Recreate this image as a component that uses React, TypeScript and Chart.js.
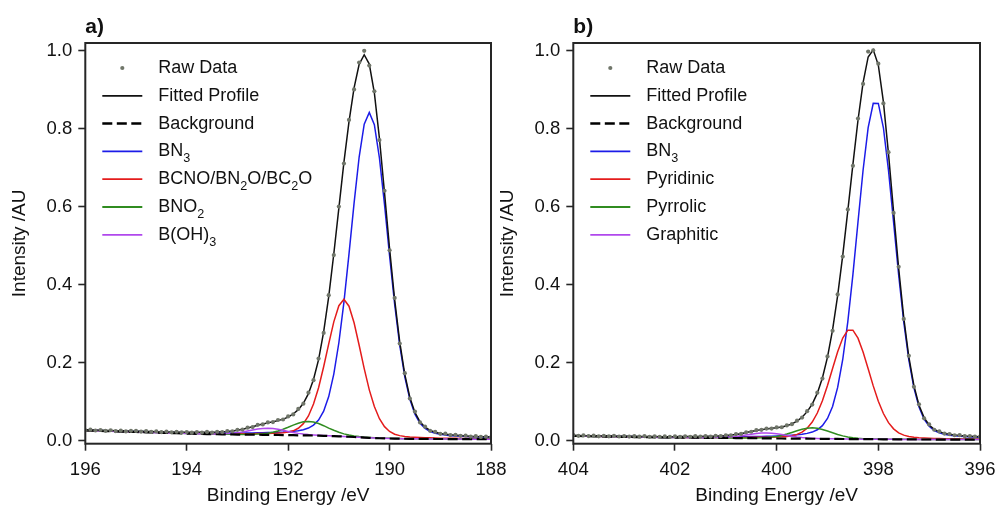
import React, { useEffect, useRef } from "react";
import { Chart, registerables } from "chart.js";

Chart.register(...registerables);

const FONT = '"Liberation Sans", Arial, Helvetica, sans-serif';
const TEXT = "#111111";
const FRAME = "#262626";

// ---------------- shared axis ticks ----------------
const yTicks = [0, 0.2, 0.4, 0.6, 0.8, 1.0];
const yTickLabels = ["0.0", "0.2", "0.4", "0.6", "0.8", "1.0"];

// ---------------- panel a) B 1s ----------------
const xTicksA = [196, 194, 192, 190, 188];
const xTickLabelsA = ["196", "194", "192", "190", "188"];

const energyA = [
  196.0, 195.9, 195.8, 195.7, 195.6, 195.5, 195.4, 195.3, 195.2, 195.1,
  195.0, 194.9, 194.8, 194.7, 194.6, 194.5, 194.4, 194.3, 194.2, 194.1,
  194.0, 193.9, 193.8, 193.7, 193.6, 193.5, 193.4, 193.3, 193.2, 193.1,
  193.0, 192.9, 192.8, 192.7, 192.6, 192.5, 192.4, 192.3, 192.2, 192.1,
  192.0, 191.9, 191.8, 191.7, 191.6, 191.5, 191.4, 191.3, 191.2, 191.1,
  191.0, 190.9, 190.8, 190.7, 190.6, 190.5, 190.4, 190.3, 190.2, 190.1,
  190.0, 189.9, 189.8, 189.7, 189.6, 189.5, 189.4, 189.3, 189.2, 189.1,
  189.0, 188.9, 188.8, 188.7, 188.6, 188.5, 188.4, 188.3, 188.2, 188.1,
  188.0,
];

const rawA = [
  0.0262, 0.0281, 0.0259, 0.0272, 0.0251, 0.0265, 0.0244, 0.0258, 0.0236, 0.025,
  0.0247, 0.0229, 0.0243, 0.0222, 0.0236, 0.0217, 0.0231, 0.0212, 0.0226, 0.0209,
  0.022, 0.0204, 0.0219, 0.0206, 0.0222, 0.0203, 0.0226, 0.0218, 0.0241, 0.0239,
  0.0275, 0.0283, 0.0332, 0.0347, 0.0404, 0.0415, 0.0467, 0.0476, 0.0528, 0.0541,
  0.062, 0.0671, 0.0812, 0.0946, 0.1228, 0.1551, 0.2105, 0.2762, 0.3731, 0.476,
  0.6003, 0.7108, 0.8226, 0.901, 0.97, 1.0, 0.962, 0.8962, 0.771, 0.641,
  0.488, 0.366, 0.249, 0.173, 0.108, 0.0745, 0.0465, 0.0358, 0.025, 0.0224,
  0.0173, 0.0176, 0.014, 0.0146, 0.0121, 0.0125, 0.0104, 0.0112, 0.0093, 0.0101,
  0.0085,
];

const fitA = [
  0.0274, 0.027, 0.0267, 0.0263, 0.0259, 0.0256, 0.0253, 0.0249, 0.0246, 0.0242,
  0.024, 0.0238, 0.0235, 0.0231, 0.0229, 0.0225, 0.0223, 0.0221, 0.0218, 0.0216,
  0.0213, 0.0213, 0.0213, 0.0213, 0.0213, 0.0213, 0.0217, 0.0225, 0.0234, 0.0247,
  0.0266, 0.029, 0.0321, 0.0355, 0.0392, 0.0424, 0.0454, 0.0483, 0.0512, 0.055,
  0.0603, 0.0682, 0.0794, 0.0958, 0.1203, 0.1567, 0.2076, 0.2789, 0.3695, 0.4787,
  0.5965, 0.7143, 0.8182, 0.9049, 0.9652, 0.9899, 0.9659, 0.8921, 0.7755, 0.6362,
  0.4928, 0.3618, 0.2531, 0.1699, 0.1107, 0.0721, 0.0483, 0.0343, 0.0263, 0.0213,
  0.0184, 0.0165, 0.0149, 0.0138, 0.0128, 0.0119, 0.0111, 0.0106, 0.01, 0.0096,
  0.0091,
];

const backgroundA = [
  0.026, 0.0256, 0.0252, 0.0248, 0.0244, 0.024, 0.0236, 0.0232, 0.0228, 0.0224,
  0.022, 0.0216, 0.0212, 0.0208, 0.0204, 0.02, 0.0196, 0.0192, 0.0188, 0.0184,
  0.018, 0.0177, 0.0174, 0.0171, 0.0168, 0.0165, 0.0163, 0.0161, 0.0159, 0.0157,
  0.0155, 0.0153, 0.0152, 0.0151, 0.015, 0.0148, 0.0147, 0.0146, 0.0144, 0.0142,
  0.014, 0.0138, 0.0136, 0.0134, 0.0132, 0.013, 0.0127, 0.0123, 0.0119, 0.0115,
  0.011, 0.0104, 0.0098, 0.0092, 0.0085, 0.0078, 0.0071, 0.0065, 0.006, 0.0057,
  0.0054, 0.0051, 0.0049, 0.0047, 0.0046, 0.0045, 0.0044, 0.0043, 0.0042, 0.0041,
  0.004, 0.004, 0.0039, 0.0039, 0.0038, 0.0038, 0.0037, 0.0037, 0.0036, 0.0036,
  0.0035,
];

const bn3A = [
  0.0269, 0.0265, 0.0262, 0.0258, 0.0254, 0.025, 0.0247, 0.0243, 0.024, 0.0236,
  0.0233, 0.023, 0.0227, 0.0223, 0.022, 0.0216, 0.0213, 0.021, 0.0207, 0.0204,
  0.0201, 0.0199, 0.0197, 0.0195, 0.0194, 0.0192, 0.0192, 0.0192, 0.0192, 0.0192,
  0.0192, 0.0193, 0.0195, 0.0197, 0.02, 0.0202, 0.0205, 0.021, 0.0215, 0.022,
  0.0228, 0.024, 0.0255, 0.0279, 0.0322, 0.0397, 0.0528, 0.0755, 0.1129, 0.1705,
  0.251, 0.3554, 0.4788, 0.6092, 0.7275, 0.8118, 0.8421, 0.8105, 0.725, 0.6057,
  0.4744, 0.3501, 0.2449, 0.1637, 0.1056, 0.0677, 0.0445, 0.031, 0.0232, 0.0186,
  0.0159, 0.0142, 0.0127, 0.0117, 0.0109, 0.0102, 0.0095, 0.0091, 0.0086, 0.0082,
  0.0078,
];

const bcnoA = [
  0.0264, 0.026, 0.0256, 0.0252, 0.0248, 0.0245, 0.0241, 0.0237, 0.0233, 0.0229,
  0.0226, 0.0222, 0.0218, 0.0214, 0.0211, 0.0207, 0.0204, 0.02, 0.0196, 0.0193,
  0.0189, 0.0187, 0.0185, 0.0183, 0.018, 0.0178, 0.0177, 0.0177, 0.0176, 0.0176,
  0.0175, 0.0174, 0.0175, 0.0176, 0.0179, 0.0179, 0.0182, 0.0187, 0.0192, 0.0201,
  0.0218, 0.0251, 0.0316, 0.0434, 0.0632, 0.094, 0.1357, 0.1893, 0.2479, 0.3045,
  0.346, 0.3624, 0.3448, 0.3022, 0.2445, 0.1848, 0.1301, 0.0875, 0.056, 0.0357,
  0.0234, 0.0164, 0.0127, 0.0106, 0.0094, 0.0086, 0.0079, 0.0074, 0.0071, 0.0066,
  0.0063, 0.0061, 0.0059, 0.0058, 0.0056, 0.0054, 0.0052, 0.0051, 0.0049, 0.0049,
  0.0047,
];

const bno2A = [
  0.0261, 0.0257, 0.0253, 0.0249, 0.0245, 0.0241, 0.0237, 0.0233, 0.0229, 0.0225,
  0.0221, 0.0218, 0.0214, 0.021, 0.0206, 0.0202, 0.0198, 0.0194, 0.019, 0.0186,
  0.0182, 0.0179, 0.0177, 0.0174, 0.0171, 0.0168, 0.0166, 0.0165, 0.0163, 0.0161,
  0.016, 0.0159, 0.016, 0.0162, 0.0167, 0.0175, 0.0191, 0.0214, 0.0247, 0.0291,
  0.0342, 0.0397, 0.0446, 0.0481, 0.0492, 0.0477, 0.0437, 0.0382, 0.0321, 0.0264,
  0.0213, 0.0172, 0.0142, 0.0119, 0.0102, 0.0089, 0.0079, 0.0071, 0.0065, 0.0062,
  0.0058, 0.0055, 0.0053, 0.005, 0.0049, 0.0048, 0.0047, 0.0045, 0.0044, 0.0043,
  0.0042, 0.0042, 0.0041, 0.0041, 0.0039, 0.0039, 0.0038, 0.0038, 0.0037, 0.0037,
  0.0036,
];

const bOH3A = [
  0.026, 0.0256, 0.0252, 0.0248, 0.0244, 0.024, 0.0236, 0.0232, 0.0228, 0.0224,
  0.022, 0.0216, 0.0212, 0.0208, 0.0204, 0.02, 0.0196, 0.0193, 0.0189, 0.0185,
  0.0181, 0.0179, 0.0176, 0.0174, 0.0172, 0.017, 0.0171, 0.0174, 0.018, 0.0189,
  0.0204, 0.0223, 0.0247, 0.0273, 0.0296, 0.0312, 0.0317, 0.031, 0.029, 0.0264,
  0.0235, 0.0208, 0.0185, 0.0166, 0.0153, 0.0143, 0.0135, 0.0128, 0.0123, 0.0118,
  0.0112, 0.0105, 0.0098, 0.0092, 0.0085, 0.0078, 0.0071, 0.0065, 0.006, 0.0057,
  0.0054, 0.0051, 0.0049, 0.0047, 0.0046, 0.0045, 0.0044, 0.0043, 0.0042, 0.0041,
  0.004, 0.004, 0.0039, 0.0039, 0.0038, 0.0038, 0.0037, 0.0037, 0.0036, 0.0036,
  0.0035,
];

// ---------------- panel b) N 1s ----------------
const xTicksB = [404, 402, 400, 398, 396];
const xTickLabelsB = ["404", "402", "400", "398", "396"];

const energyB = [
  404.0, 403.9, 403.8, 403.7, 403.6, 403.5, 403.4, 403.3, 403.2, 403.1,
  403.0, 402.9, 402.8, 402.7, 402.6, 402.5, 402.4, 402.3, 402.2, 402.1,
  402.0, 401.9, 401.8, 401.7, 401.6, 401.5, 401.4, 401.3, 401.2, 401.1,
  401.0, 400.9, 400.8, 400.7, 400.6, 400.5, 400.4, 400.3, 400.2, 400.1,
  400.0, 399.9, 399.8, 399.7, 399.6, 399.5, 399.4, 399.3, 399.2, 399.1,
  399.0, 398.9, 398.8, 398.7, 398.6, 398.5, 398.4, 398.3, 398.2, 398.1,
  398.0, 397.9, 397.8, 397.7, 397.6, 397.5, 397.4, 397.3, 397.2, 397.1,
  397.0, 396.9, 396.8, 396.7, 396.6, 396.5, 396.4, 396.3, 396.2, 396.1,
  396.0,
];

const rawB = [
  0.0142, 0.0121, 0.0133, 0.0116, 0.0128, 0.011, 0.0124, 0.0109, 0.0121, 0.0105,
  0.0118, 0.0102, 0.0115, 0.0099, 0.0113, 0.0097, 0.011, 0.0095, 0.0108, 0.0094,
  0.0108, 0.0095, 0.011, 0.0096, 0.0112, 0.0099, 0.0115, 0.0104, 0.0121, 0.0115,
  0.0137, 0.0135, 0.0166, 0.0172, 0.0213, 0.0226, 0.0266, 0.0275, 0.0308, 0.0309,
  0.0338, 0.0342, 0.039, 0.0421, 0.051, 0.059, 0.0755, 0.0925, 0.123, 0.159,
  0.216, 0.2815, 0.375, 0.472, 0.593, 0.705, 0.826, 0.915, 0.998, 1.001,
  0.967, 0.865, 0.74, 0.584, 0.446, 0.312, 0.2175, 0.138, 0.093, 0.057,
  0.0415, 0.0278, 0.0234, 0.018, 0.0168, 0.0137, 0.0139, 0.0114, 0.0117, 0.0099,
  0.0101,
];

const fitB = [
  0.0131, 0.0128, 0.0125, 0.0123, 0.012, 0.0117, 0.0116, 0.0115, 0.0114, 0.0112,
  0.0111, 0.0109, 0.0108, 0.0106, 0.0106, 0.0104, 0.0103, 0.0101, 0.0101, 0.0101,
  0.0101, 0.0102, 0.0103, 0.0102, 0.0105, 0.0105, 0.0108, 0.0109, 0.0114, 0.0121,
  0.0129, 0.0141, 0.0158, 0.0178, 0.0205, 0.0232, 0.0258, 0.0281, 0.03, 0.0314,
  0.0329, 0.0348, 0.0379, 0.0428, 0.0498, 0.0599, 0.0742, 0.0937, 0.1216, 0.1605,
  0.2139, 0.284, 0.3718, 0.4751, 0.5899, 0.7086, 0.8219, 0.9185, 0.9842, 1.0026,
  0.9633, 0.869, 0.7363, 0.5874, 0.4422, 0.3155, 0.2145, 0.1408, 0.0907, 0.059,
  0.04, 0.0289, 0.0224, 0.0188, 0.0161, 0.0144, 0.0132, 0.012, 0.0111, 0.0104,
  0.0096,
];

const backgroundB = [
  0.012, 0.0117, 0.0114, 0.0111, 0.0108, 0.0105, 0.0103, 0.0101, 0.0099, 0.0097,
  0.0095, 0.0093, 0.0091, 0.0089, 0.0087, 0.0085, 0.0083, 0.0081, 0.0079, 0.0078,
  0.0077, 0.0076, 0.0075, 0.0074, 0.0073, 0.0072, 0.0071, 0.007, 0.0069, 0.0068,
  0.0067, 0.0066, 0.0065, 0.0064, 0.0063, 0.0062, 0.006, 0.0059, 0.0057, 0.0056,
  0.0054, 0.0053, 0.0052, 0.0051, 0.005, 0.0049, 0.0048, 0.0047, 0.0046, 0.0045,
  0.0044, 0.0043, 0.0042, 0.0041, 0.004, 0.0039, 0.0038, 0.0037, 0.0036, 0.0035,
  0.0034, 0.0033, 0.0032, 0.0031, 0.003, 0.003, 0.0029, 0.0029, 0.0028, 0.0028,
  0.0028, 0.0027, 0.0027, 0.0027, 0.0026, 0.0026, 0.0026, 0.0026, 0.0025, 0.0025,
  0.0025,
];

const bn3B = [
  0.0127, 0.0124, 0.0121, 0.0119, 0.0116, 0.0113, 0.0112, 0.011, 0.0109, 0.0107,
  0.0106, 0.0104, 0.0103, 0.0101, 0.01, 0.0098, 0.0097, 0.0095, 0.0094, 0.0094,
  0.0093, 0.0093, 0.0093, 0.0092, 0.0092, 0.0092, 0.0093, 0.0093, 0.0094, 0.0095,
  0.0096, 0.0097, 0.0098, 0.0099, 0.0101, 0.0103, 0.0104, 0.0107, 0.011, 0.0113,
  0.0118, 0.0123, 0.0129, 0.0138, 0.0148, 0.0162, 0.0185, 0.0218, 0.0278, 0.0383,
  0.0567, 0.0876, 0.1364, 0.208, 0.3053, 0.4259, 0.5608, 0.6936, 0.8028, 0.8652,
  0.8651, 0.8025, 0.6931, 0.5601, 0.425, 0.3043, 0.2068, 0.1351, 0.0861, 0.0551,
  0.0366, 0.0259, 0.0198, 0.0164, 0.0139, 0.0124, 0.0113, 0.0103, 0.0095, 0.0089,
  0.0082,
];

const pyridinicB = [
  0.0123, 0.012, 0.0117, 0.0114, 0.0111, 0.0108, 0.0106, 0.0105, 0.0103, 0.0101,
  0.0099, 0.0097, 0.0095, 0.0093, 0.0092, 0.009, 0.0088, 0.0086, 0.0085, 0.0084,
  0.0083, 0.0082, 0.0082, 0.0081, 0.0082, 0.0081, 0.0081, 0.008, 0.008, 0.008,
  0.008, 0.008, 0.0081, 0.0081, 0.0082, 0.0083, 0.0083, 0.0084, 0.0085, 0.0088,
  0.0091, 0.0097, 0.0107, 0.0126, 0.0159, 0.0218, 0.0318, 0.0475, 0.0707, 0.1022,
  0.1412, 0.1848, 0.2278, 0.2631, 0.2833, 0.2832, 0.2628, 0.2273, 0.1841, 0.1403,
  0.1011, 0.0694, 0.046, 0.0301, 0.0199, 0.0139, 0.0104, 0.0084, 0.0072, 0.0065,
  0.006, 0.0055, 0.0052, 0.005, 0.0047, 0.0045, 0.0044, 0.0042, 0.004, 0.0039,
  0.0038,
];

const pyrrolicB = [
  0.0121, 0.0118, 0.0115, 0.0112, 0.0109, 0.0106, 0.0104, 0.0102, 0.01, 0.0098,
  0.0096, 0.0094, 0.0092, 0.009, 0.0088, 0.0086, 0.0084, 0.0082, 0.008, 0.0079,
  0.0078, 0.0078, 0.0077, 0.0076, 0.0075, 0.0074, 0.0073, 0.0072, 0.0071, 0.0071,
  0.007, 0.0069, 0.0069, 0.0068, 0.0068, 0.0068, 0.0069, 0.0072, 0.0078, 0.009,
  0.0107, 0.0133, 0.0168, 0.0208, 0.0251, 0.029, 0.0318, 0.0327, 0.0316, 0.0286,
  0.0245, 0.02, 0.0158, 0.0121, 0.0093, 0.0073, 0.0059, 0.005, 0.0045, 0.0041,
  0.0039, 0.0037, 0.0036, 0.0034, 0.0033, 0.0033, 0.0031, 0.0031, 0.003, 0.003,
  0.003, 0.0028, 0.0028, 0.0028, 0.0027, 0.0027, 0.0027, 0.0027, 0.0026, 0.0026,
  0.0026,
];

const graphiticB = [
  0.012, 0.0117, 0.0114, 0.0111, 0.0108, 0.0105, 0.0103, 0.0101, 0.0099, 0.0097,
  0.0095, 0.0093, 0.0091, 0.0089, 0.0087, 0.0085, 0.0083, 0.0081, 0.0079, 0.0078,
  0.0078, 0.0077, 0.0076, 0.0075, 0.0075, 0.0074, 0.0074, 0.0074, 0.0076, 0.0079,
  0.0084, 0.0093, 0.0105, 0.0122, 0.0142, 0.0163, 0.0181, 0.0194, 0.0197, 0.0191,
  0.0175, 0.0154, 0.0131, 0.0109, 0.009, 0.0076, 0.0065, 0.0058, 0.0053, 0.0049,
  0.0047, 0.0045, 0.0044, 0.0042, 0.0041, 0.004, 0.0038, 0.0037, 0.0036, 0.0035,
  0.0034, 0.0033, 0.0032, 0.0031, 0.003, 0.003, 0.0029, 0.0029, 0.0028, 0.0028,
  0.0028, 0.0027, 0.0027, 0.0027, 0.0026, 0.0026, 0.0026, 0.0026, 0.0025, 0.0025,
  0.0025,
];

// ---------------- styles ----------------
const RAW_COLOR = "rgb(112,118,106)";
const BLUE = "rgb(28,28,232)";
const RED = "rgb(228,28,28)";
const GREEN = "rgb(48,140,32)";
const PURPLE = "rgb(176,72,236)";

type Series = { label: string; values: number[]; color: string; width: number; dash?: number[]; dots?: boolean };

const SUB: Record<string, string> = {
  "₀": "0", "₁": "1", "₂": "2", "₃": "3", "₄": "4", "₅": "5", "₆": "6", "₇": "7", "₈": "8", "₉": "9",
};

function drawRichText(ctx: CanvasRenderingContext2D, text: string, x: number, y: number, size: number) {
  const runs: { t: string; sub: boolean }[] = [];
  for (const ch of Array.from(text)) {
    const sub = ch in SUB;
    const c = sub ? SUB[ch] : ch;
    const last = runs[runs.length - 1];
    if (last && last.sub === sub) last.t += c;
    else runs.push({ t: c, sub });
  }
  let cx = x;
  for (const r of runs) {
    if (r.sub) {
      ctx.font = `${size * 0.7}px ${FONT}`;
      ctx.fillText(r.t, cx, y + size * 0.42);
    } else {
      ctx.font = `${size}px ${FONT}`;
      ctx.fillText(r.t, cx, y);
    }
    cx += ctx.measureText(r.t).width;
  }
}

type PanelProps = {
  panelLabel: string;
  energies: number[];
  series: Series[];
  drawOrder: number[];
  xMin: number;
  xMax: number;
  xTicks: number[];
  xTickLabels: string[];
  canvasLeft: number;
  canvasWidth: number;
  yAxisWidth: number;
  yTitlePad: number;
  padRight: number;
};

const CANVAS_H = 507;
const PLOT_TOP = 43;
const PLOT_BOTTOM = 443.7;

function XpsPanel(p: PanelProps) {
  const ref = useRef<HTMLCanvasElement | null>(null);

  useEffect(() => {
    if (!ref.current) return;
    const ordered = p.drawOrder.map((i) => p.series[i]);
    const datasets = ordered.map((s) => {
      const data = p.energies.map((e, i) => ({ x: e, y: s.values[i] }));
      if (s.dots) {
        return {
          label: s.label,
          data,
          showLine: false,
          pointRadius: 2.1,
          pointHoverRadius: 0,
          pointBorderWidth: 0,
          pointBackgroundColor: s.color,
          backgroundColor: s.color,
          borderColor: s.color,
        };
      }
      return {
        label: s.label,
        data,
        borderColor: s.color,
        borderWidth: s.width,
        borderDash: s.dash || [],
        pointRadius: 0,
        pointHoverRadius: 0,
        tension: 0,
        fill: false,
      };
    });

    const decor = {
      id: "decor",
      afterDraw(chart: any) {
        const { ctx, chartArea } = chart;
        const { left, top, right, bottom } = chartArea;
        ctx.save();
        ctx.strokeStyle = FRAME;
        ctx.lineWidth = 2;
        ctx.setLineDash([]);
        ctx.strokeRect(left, top, right - left, bottom - top);
        ctx.fillStyle = TEXT;
        ctx.font = `bold 21px ${FONT}`;
        ctx.textAlign = "left";
        ctx.textBaseline = "alphabetic";
        ctx.fillText(p.panelLabel, left, top - 10);
        ctx.textBaseline = "middle";
        p.series.forEach((s, i) => {
          const y = top + 25 + i * 27.8;
          const x0 = left + 17;
          const x1 = left + 57;
          if (s.dots) {
            ctx.fillStyle = s.color;
            ctx.beginPath();
            ctx.arc((x0 + x1) / 2, y, 2.1, 0, Math.PI * 2);
            ctx.fill();
          } else {
            ctx.strokeStyle = s.color;
            ctx.lineWidth = s.width + 0.3;
            ctx.setLineDash(s.dash || []);
            ctx.beginPath();
            ctx.moveTo(x0, y);
            ctx.lineTo(x1, y);
            ctx.stroke();
            ctx.setLineDash([]);
          }
          ctx.fillStyle = TEXT;
          drawRichText(ctx, s.label, left + 73, y, 18);
        });
        ctx.restore();
      },
    };

    const tickFont = { family: FONT, size: 18.5 };
    const titleFont = { family: FONT, size: 19 };

    const chart = new Chart(ref.current, {
      type: "line",
      data: { datasets: datasets as any },
      options: {
        animation: false,
        responsive: false,
        events: [],
        layout: { padding: { left: 0, top: PLOT_TOP, right: p.padRight, bottom: 0 } },
        plugins: { legend: { display: false }, tooltip: { enabled: false }, title: { display: false } },
        scales: {
          x: {
            type: "linear",
            reverse: true,
            min: p.xMin,
            max: p.xMax,
            afterBuildTicks: (s: any) => {
              s.ticks = p.xTicks.map((v) => ({ value: v }));
            },
            afterFit: (s: any) => {
              s.height = CANVAS_H - PLOT_BOTTOM;
              s.paddingLeft = 0;
              s.paddingRight = 0;
            },
            ticks: {
              font: tickFont,
              color: TEXT,
              padding: 8,
              maxRotation: 0,
              autoSkip: false,
              callback: (_v: any, i: number) => p.xTickLabels[i],
            },
            grid: {
              display: true,
              drawOnChartArea: false,
              drawTicks: true,
              tickLength: 7,
              tickWidth: 1.6,
              tickColor: FRAME,
            },
            border: { display: false },
            title: {
              display: true,
              text: "Binding Energy /eV",
              font: titleFont,
              color: TEXT,
              padding: { top: 0, bottom: 0 },
            },
          },
          y: {
            type: "linear",
            min: -0.008,
            max: 1.02,
            afterBuildTicks: (s: any) => {
              s.ticks = yTicks.map((v) => ({ value: v }));
            },
            afterFit: (s: any) => {
              s.width = p.yAxisWidth;
              s.paddingTop = 0;
              s.paddingBottom = 0;
            },
            ticks: {
              font: tickFont,
              color: TEXT,
              padding: 6,
              autoSkip: false,
              callback: (_v: any, i: number) => yTickLabels[i],
            },
            grid: {
              display: true,
              drawOnChartArea: false,
              drawTicks: true,
              tickLength: 7,
              tickWidth: 1.6,
              tickColor: FRAME,
            },
            border: { display: false },
            title: {
              display: true,
              text: "Intensity /AU",
              font: titleFont,
              color: TEXT,
              padding: { top: p.yTitlePad, bottom: 0 },
            },
          },
        },
      } as any,
      plugins: [decor],
    });
    return () => chart.destroy();
  }, []);

  return (
    <canvas
      ref={ref}
      width={p.canvasWidth}
      height={CANVAS_H}
      style={{ position: "absolute", left: p.canvasLeft, top: 0, width: p.canvasWidth, height: CANVAS_H }}
    />
  );
}

const seriesA: Series[] = [
  { label: "Raw Data", values: rawA, color: RAW_COLOR, width: 0, dots: true },
  { label: "Fitted Profile", values: fitA, color: "#111111", width: 1.5 },
  { label: "Background", values: backgroundA, color: "#000000", width: 2.2, dash: [10, 4.5] },
  { label: "BN₃", values: bn3A, color: BLUE, width: 1.5 },
  { label: "BCNO/BN₂O/BC₂O", values: bcnoA, color: RED, width: 1.5 },
  { label: "BNO₂", values: bno2A, color: GREEN, width: 1.5 },
  { label: "B(OH)₃", values: bOH3A, color: PURPLE, width: 1.5 },
];

const seriesB: Series[] = [
  { label: "Raw Data", values: rawB, color: RAW_COLOR, width: 0, dots: true },
  { label: "Fitted Profile", values: fitB, color: "#111111", width: 1.5 },
  { label: "Background", values: backgroundB, color: "#000000", width: 2.2, dash: [10, 4.5] },
  { label: "BN₃", values: bn3B, color: BLUE, width: 1.5 },
  { label: "Pyridinic", values: pyridinicB, color: RED, width: 1.5 },
  { label: "Pyrrolic", values: pyrrolicB, color: GREEN, width: 1.5 },
  { label: "Graphitic", values: graphiticB, color: PURPLE, width: 1.5 },
];

// top-most first: raw, background, fit, purple, green, red, blue
const DRAW_ORDER = [0, 2, 1, 6, 5, 4, 3];

export default function App() {
  useEffect(() => {
    document.body.style.margin = "0";
    document.body.style.background = "#ffffff";
  }, []);
  return (
    <div style={{ position: "relative", width: 996, height: 507, background: "#ffffff", overflow: "hidden" }}>
      <XpsPanel
        panelLabel="a)"
        energies={energyA}
        series={seriesA}
        drawOrder={DRAW_ORDER}
        xMin={188}
        xMax={196}
        xTicks={xTicksA}
        xTickLabels={xTickLabelsA}
        canvasLeft={0}
        canvasWidth={520}
        yAxisWidth={85.3}
        yTitlePad={8.5}
        padRight={29}
      />
      <XpsPanel
        panelLabel="b)"
        energies={energyB}
        series={seriesB}
        drawOrder={DRAW_ORDER}
        xMin={396}
        xMax={404}
        xTicks={xTicksB}
        xTickLabels={xTickLabelsB}
        canvasLeft={496}
        canvasWidth={500}
        yAxisWidth={77.3}
        yTitlePad={0}
        padRight={16}
      />
    </div>
  );
}
